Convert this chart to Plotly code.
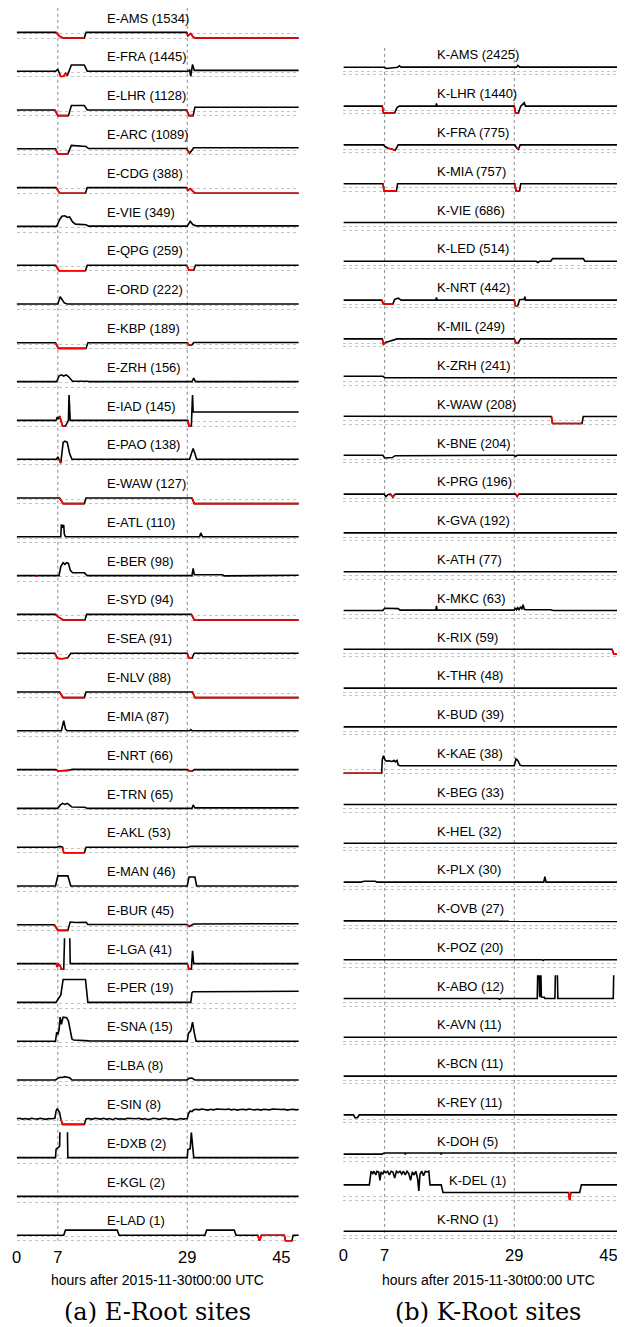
import plotly.graph_objects as go

W, H = 625, 1327
OFF = 8  # the page body adds an 8px margin, so the figure is drawn 8px smaller
WF, HF = W - OFF, H - OFF

E_SITES = ['E-AMS (1534)', 'E-FRA (1445)', 'E-LHR (1128)', 'E-ARC (1089)', 'E-CDG (388)',
           'E-VIE (349)', 'E-QPG (259)', 'E-ORD (222)', 'E-KBP (189)', 'E-ZRH (156)',
           'E-IAD (145)', 'E-PAO (138)', 'E-WAW (127)', 'E-ATL (110)', 'E-BER (98)',
           'E-SYD (94)', 'E-SEA (91)', 'E-NLV (88)', 'E-MIA (87)', 'E-NRT (66)',
           'E-TRN (65)', 'E-AKL (53)', 'E-MAN (46)', 'E-BUR (45)', 'E-LGA (41)',
           'E-PER (19)', 'E-SNA (15)', 'E-LBA (8)', 'E-SIN (8)', 'E-DXB (2)',
           'E-KGL (2)', 'E-LAD (1)']
K_SITES = ['K-AMS (2425)', 'K-LHR (1440)', 'K-FRA (775)', 'K-MIA (757)', 'K-VIE (686)',
           'K-LED (514)', 'K-NRT (442)', 'K-MIL (249)', 'K-ZRH (241)', 'K-WAW (208)',
           'K-BNE (204)', 'K-PRG (196)', 'K-GVA (192)', 'K-ATH (77)', 'K-MKC (63)',
           'K-RIX (59)', 'K-THR (48)', 'K-BUD (39)', 'K-KAE (38)', 'K-BEG (33)',
           'K-HEL (32)', 'K-PLX (30)', 'K-OVB (27)', 'K-POZ (20)', 'K-ABO (12)',
           'K-AVN (11)', 'K-BCN (11)', 'K-REY (11)', 'K-DOH (5)', 'K-DEL (1)',
           'K-RNO (1)']

TICKS = [0, 7, 29, 45]
EVENTS = [7, 29]

# hours after 2015-11-30 00:00 UTC / relative reachability (1 = normal, 0 = none)
# red spans = stretches drawn in red
FLAT_X = [0, 48]
FLAT_Y = [1, 1]

E_AMS_X = [0, 6.7, 7.3, 7.9, 11.5, 11.8, 28.9, 29.1, 29.6, 30.0, 30.3, 48]
E_AMS_Y = [1, 1, 0.3, 0, 0, 1, 1, 0.4, 0.8, 0.2, 0, 0]
E_AMS_RED = [(6.7, 11.5), (28.9, 48)]

E_FRA_X = [0, 6.6, 7.0, 7.3, 7.5, 8.0, 8.3, 8.6, 9.0, 9.3, 11.5, 12.0, 29.1, 29.4, 29.6, 29.9, 30.2, 30.6, 48]
E_FRA_Y = [1, 1, 1.3, 0.6, 0.05, 0.1, 0.6, 0.2, 1.5, 2.1, 2.1, 1, 1, 1.2, 0.1, 2.2, 1.15, 1.15, 1.15]
E_FRA_RED = [(7.3, 8.6)]

E_LHR_X = [0, 6.5, 7.0, 8.8, 9.3, 11.5, 12.0, 28.9, 29.3, 30.0, 30.3, 48]
E_LHR_Y = [1, 1, 0, 0, 1.8, 1.8, 1, 1, 0, 0, 1.5, 1.5]
E_LHR_RED = [(6.5, 8.8), (28.9, 30.0)]

E_ARC_X = [0, 6.6, 7.0, 8.7, 9.3, 11.8, 12.2, 28.9, 29.4, 30.1, 48]
E_ARC_Y = [1, 1, 0.1, 0.1, 1.6, 1.4, 1.05, 1.05, 0.2, 1.2, 1.2]
E_ARC_RED = [(6.6, 8.7), (28.9, 29.4)]

E_CDG_X = [0, 6.7, 7.3, 11.7, 12.0, 28.9, 29.1, 29.5, 30.3, 48]
E_CDG_Y = [1, 1, 0, 0, 1, 1, 0.5, 0.8, 0, 0]
E_CDG_RED = [(6.7, 11.7), (28.9, 48)]

E_VIE_X = [0, 6.8, 7.3, 7.7, 8.2, 8.6, 9.0, 9.5, 10.0, 11.8, 12.2, 29.0, 29.5, 30.0, 30.5, 48]
E_VIE_Y = [1, 1, 2.2, 2.8, 2.9, 2.6, 2.7, 1.8, 1.4, 1.3, 1.05, 1.05, 1.9, 1.3, 1.1, 1.1]
E_VIE_RED = []

E_QPG_X = [0, 6.6, 7.2, 11.7, 12.0, 28.9, 29.3, 30.1, 30.4, 48]
E_QPG_Y = [1, 1, 0, 0, 1, 1, 0.1, 0.1, 1, 1]
E_QPG_RED = [(6.6, 11.7), (28.9, 30.1)]

E_ORD_X = [0, 7.0, 7.4, 7.7, 8.1, 8.6, 48]
E_ORD_Y = [1, 1, 2.3, 1.8, 1.2, 1, 1]
E_ORD_RED = []

E_KBP_X = [0, 6.6, 7.1, 11.8, 12.1, 29.0, 29.3, 29.8, 30.1, 48]
E_KBP_Y = [1, 1, 0, 0, 1, 1, 0.6, 0.6, 1.05, 1.05]
E_KBP_RED = [(6.6, 11.8), (29.0, 29.8)]

E_ZRH_X = [0, 6.8, 7.2, 7.6, 8.0, 8.4, 8.8, 9.5, 12.0, 12.3, 29.8, 30.1, 30.4, 48]
E_ZRH_Y = [1, 1, 2.0, 2.2, 2.0, 2.2, 1.9, 1.05, 1.05, 1, 1, 1.6, 1, 1]
E_ZRH_RED = []

E_IAD_X = [0, 6.7, 6.9, 7.1, 7.3, 7.8, 8.3, 8.8, 8.9, 9.1, 29.1, 29.3, 29.7, 29.9, 30.0, 30.2, 48]
E_IAD_Y = [1, 1, 1.6, 1.2, 1.8, 0, 0, 1, 5.6, 1, 1, 0, 0, 5.6, 2.5, 2.5, 2.5]
E_IAD_RED = [(7.3, 8.3), (29.1, 29.7)]

E_PAO_X = [0, 6.8, 7.0, 7.2, 7.5, 7.9, 8.2, 8.6, 9.0, 9.4, 29.4, 29.8, 30.0, 30.3, 30.6, 48]
E_PAO_Y = [1, 1, 1.4, 1.0, 0.3, 4.0, 4.2, 4.0, 2.0, 1, 1, 2.3, 2.9, 2.0, 1, 1]
E_PAO_RED = [(7.2, 7.5)]

E_WAW_X = [0, 7.3, 7.9, 11.5, 11.8, 29.8, 30.2, 48]
E_WAW_Y = [1, 1, 0, 0, 1, 1, 0, 0]
E_WAW_RED = [(7.3, 11.5), (29.8, 48)]

E_ATL_X = [0, 7.5, 7.6, 7.8, 8.0, 8.1, 8.3, 31.1, 31.3, 31.6, 48]
E_ATL_Y = [1, 1, 3.2, 2.8, 3.1, 1.5, 1, 1, 1.7, 1, 1]
E_ATL_RED = []

E_BER_X = [0, 3.3, 3.4, 3.5, 7.2, 7.5, 7.9, 8.2, 8.5, 8.8, 9.1, 9.5, 11.5, 12.0, 29.8, 30.0, 30.2, 35.0, 35.3, 40.6, 41.0, 48]
E_BER_Y = [1, 1, 0.8, 1, 1, 2.6, 3.3, 3.0, 3.3, 3.2, 2.0, 1.5, 1.5, 1, 1, 2.3, 1.15, 1.15, 0.95, 0.95, 1.05, 1.05]
E_BER_RED = [(3.3, 3.5)]

E_SYD_X = [0, 6.6, 7.0, 7.5, 7.9, 11.6, 11.9, 29.7, 30.2, 48]
E_SYD_Y = [1, 1, 0.6, 0.3, 0, 0, 1, 1, 0, 0]
E_SYD_RED = [(6.6, 11.6), (29.7, 48)]

E_SEA_X = [0, 6.5, 6.9, 7.6, 8.2, 8.7, 9.2, 29.0, 29.3, 29.8, 30.2, 48]
E_SEA_Y = [1, 1, 0.1, 0, 0.05, 0.2, 1, 1, 0.1, 0.1, 1, 1]
E_SEA_RED = [(6.5, 8.7), (29.0, 29.8)]

E_NLV_X = [0, 7.3, 7.9, 11.5, 11.8, 29.9, 30.3, 48]
E_NLV_Y = [1, 1, 0, 0, 1, 1, 0, 0]
E_NLV_RED = [(7.3, 11.5), (29.9, 48)]

E_MIA_X = [0, 7.6, 8.0, 8.3, 8.6, 29.4, 29.6, 29.8, 48]
E_MIA_Y = [1, 1, 2.8, 1.3, 1, 1, 1.2, 1, 1]
E_MIA_RED = []

E_NRT_X = [0, 6.7, 7.0, 7.6, 8.1, 8.6, 9.0, 9.4, 29.1, 29.4, 29.9, 30.2, 48]
E_NRT_Y = [1, 1, 0.75, 0.8, 0.75, 0.8, 0.9, 1.05, 1, 0.7, 0.75, 1, 1]
E_NRT_RED = [(6.7, 9.0), (29.1, 29.9)]

E_TRN_X = [0, 7.0, 7.4, 7.8, 8.2, 8.6, 9.0, 9.4, 11.6, 12.0, 29.8, 30.0, 30.3, 48]
E_TRN_Y = [1, 1, 1.6, 1.9, 1.7, 1.9, 1.6, 1.25, 1.2, 1, 1, 1.6, 1.1, 1.1]
E_TRN_RED = []

E_AKL_X = [0, 6.8, 7.3, 7.8, 8.0, 11.5, 11.8, 29.0, 29.6, 48]
E_AKL_Y = [1, 1, 1.15, 1.0, 0, 0, 1, 1, 1.15, 1.15]
E_AKL_RED = [(7.8, 11.5)]

E_MAN_X = [0, 6.6, 7.0, 8.7, 9.2, 29.0, 29.3, 30.3, 30.6, 48]
E_MAN_Y = [1, 1, 2.8, 2.8, 1, 1, 2.6, 2.6, 1, 1]
E_MAN_RED = []

E_BUR_X = [0, 6.4, 7.0, 8.7, 9.1, 10.0, 11.8, 12.1, 29.0, 29.3, 30.1, 48]
E_BUR_Y = [1, 1, 0, 0, 1.5, 1.4, 1.45, 1.05, 1.05, 0.7, 1.15, 1.2]
E_BUR_RED = [(6.4, 8.7), (29.0, 29.3)]

E_LGA_X = [0, 6.7, 6.9, 7.1, 7.4, 7.6, 8.0, 8.2, 9.0, 9.1, 29.0, 29.3, 29.7, 29.9, 30.1, 48]
E_LGA_Y = [1, 1, 0.4, 0.9, 0.6, 0, 0, 8, 8, 1, 1, 0, 0, 3.3, 1, 1]
E_LGA_RED = [(6.7, 8.0), (29.0, 29.7)]

E_PER_X = [0, 6.7, 7.1, 7.5, 7.9, 11.7, 12.1, 29.6, 29.8, 30.0, 48]
E_PER_Y = [1, 1, 1.7, 2.3, 5.1, 5.1, 1, 1, 2.7, 2.9, 3.0]
E_PER_RED = []

E_SNA_X = [0, 6.6, 6.8, 7.0, 7.2, 7.4, 7.6, 7.9, 8.5, 8.8, 9.1, 9.4, 9.7, 10.5, 12.0, 12.3,
           29.0, 29.2, 29.6, 29.9, 30.2, 30.5, 48]
E_SNA_Y = [1, 1, 2.6, 2.2, 3.0, 5.3, 4.0, 5.3, 5.2, 4.6, 3.0, 1.4, 1.2, 1.15, 1.1, 1.05,
           1, 2.4, 2.9, 4.4, 2.5, 1, 1]
E_SNA_RED = []

E_LBA_X = [0, 6.6, 7.0, 7.4, 7.8, 8.2, 8.6, 9.0, 9.4, 29.0, 29.3, 29.8, 30.3, 48]
E_LBA_Y = [1, 1, 1.3, 1.5, 1.45, 1.6, 1.5, 1.4, 1, 1, 1.3, 1.35, 1, 1]
E_LBA_RED = []

E_SIN_X = [0, 0.5, 1.0, 1.5, 2.0, 2.5, 3.0, 3.5, 4.0, 4.5, 5.0, 5.5, 6.0, 6.5,
           6.7, 6.9, 7.1, 7.3, 7.5, 7.8, 11.5, 11.8,
           12.3, 12.8, 13.3, 13.8, 14.3, 14.8, 15.3, 15.8, 16.3, 16.8, 17.3, 17.8, 18.3, 18.8,
           19.3, 19.8, 20.3, 20.8, 21.3, 21.8, 22.3, 22.8, 23.3, 23.8, 24.3, 24.8, 25.3, 25.8,
           26.3, 26.8, 27.3, 27.8, 28.3, 28.8,
           29.0, 29.2, 29.5, 29.8, 30.1,
           30.5, 31.0, 31.5, 32.0, 32.5, 33.0, 33.5, 34.0, 34.5, 35.0, 35.5, 36.0, 36.5, 37.0,
           37.5, 38.0, 38.5, 39.0, 39.5, 40.0, 40.5, 41.0, 41.5, 42.0, 42.5, 43.0, 43.5, 44.0,
           44.5, 45.0, 45.5, 46.0, 46.5, 47.0, 47.5, 48]
E_SIN_Y = [1.0, 1.1, 0.95, 1.05, 0.9, 1.1, 1.0, 0.95, 1.1, 1.0, 0.9, 1.05, 1.0, 1.1,
           2.4, 2.8, 2.3, 2.1, 1.0, 0.0, 0.0, 1.0,
           1.05, 0.9, 1.1, 1.0, 0.95, 1.1, 0.9, 1.05, 0.85, 1.1, 0.95, 1.0, 0.9, 1.1,
           1.05, 0.95, 1.0, 1.1, 0.9, 1.05, 0.85, 0.95, 1.1, 1.0, 0.9, 1.05, 1.1, 0.95,
           1.0, 0.9, 0.85, 1.05, 0.95, 1.0,
           1.0, 1.9, 2.4, 2.3, 2.6,
           2.7, 2.6, 2.75, 2.65, 2.55, 2.7, 2.6, 2.75, 2.7, 2.6, 2.65, 2.75, 2.6, 2.7,
           2.55, 2.65, 2.7, 2.6, 2.75, 2.65, 2.6, 2.7, 2.55, 2.7, 2.65, 2.6, 2.75, 2.7,
           2.6, 2.65, 2.7, 2.55, 2.65, 2.7, 2.6, 2.65]
E_SIN_RED = [(7.5, 11.5), (16.3, 16.3), (22.3, 22.3), (27.3, 27.3)]

E_DXB_X = [0, 6.6, 6.7, 7.0, 7.3, 7.4, 8.6, 8.7, 29.0, 29.1, 29.5, 29.7, 30.1, 48]
E_DXB_Y = [1, 1, 2.5, 2.7, 3.0, 8, 8, 1, 1, 2.4, 2.6, 5.5, 1, 1]
E_DXB_RED = []

E_KGL_X = FLAT_X
E_KGL_Y = FLAT_Y
E_KGL_RED = []

E_LAD_X = [0, 8.0, 8.3, 17.1, 17.4, 32.0, 32.3, 37.0, 37.3, 41.0, 41.3, 41.6, 45.5, 45.7, 46.8, 47.0, 48]
E_LAD_Y = [1, 1, 1.9, 1.9, 1, 1, 1.9, 1.9, 1, 1, 0, 1, 1, 0, 0, 1, 1]
E_LAD_RED = [(41.0, 41.6), (45.5, 46.8)]

K_AMS_X = [0, 6.9, 7.3, 8.5, 9.2, 9.5, 9.8, 29.4, 29.6, 29.9, 48]
K_AMS_Y = [1, 1, 0.85, 0.9, 1.0, 1.2, 1.02, 1.02, 1.25, 1.02, 1.02]
K_AMS_RED = []

K_LHR_X = [0, 6.6, 6.8, 8.7, 9.1, 9.5, 15.7, 15.8, 15.9, 29.0, 29.2, 29.7, 30.1, 30.7, 30.9, 48]
K_LHR_Y = [1, 1, 0.1, 0.1, 0.8, 1, 1, 1.35, 1, 1, 0.1, 0.1, 1, 1.45, 1, 1]
K_LHR_RED = [(6.6, 8.7), (29.0, 29.7)]

K_FRA_X = [0, 6.8, 7.1, 7.6, 8.2, 8.8, 9.3, 29.1, 29.4, 29.7, 30.0, 48]
K_FRA_Y = [1, 1, 0.75, 0.55, 0.45, 0.3, 1, 1, 0.6, 0.4, 1, 1]
K_FRA_RED = [(7.6, 8.8), (29.4, 29.7)]

K_MIA_X = [0, 6.7, 6.9, 9.0, 9.2, 29.1, 29.3, 29.9, 30.1, 48]
K_MIA_Y = [1, 1, 0.05, 0.05, 1, 1, 0.05, 0.05, 1, 1]
K_MIA_RED = [(6.7, 9.0), (29.1, 29.9)]

K_VIE_X = FLAT_X
K_VIE_Y = FLAT_Y
K_VIE_RED = []

K_LED_X = [0, 6.9, 7.2, 7.5, 32.7, 33.0, 33.3, 35.2, 35.5, 40.7, 41.0, 48]
K_LED_Y = [1, 1, 0.95, 1, 1, 0.85, 1, 1, 1.35, 1.35, 1, 1]
K_LED_RED = []

K_NRT_X = [0, 6.5, 6.8, 8.4, 8.7, 9.3, 9.8, 15.7, 15.8, 15.9, 29.0, 29.2, 29.6, 29.9, 30.7, 30.8, 30.9, 48]
K_NRT_Y = [1, 1, 0.5, 0.5, 1.1, 1.25, 1, 1, 1.35, 1, 1, 0.25, 0.25, 1.05, 1.1, 1.45, 1, 1]
K_NRT_RED = [(6.5, 8.4), (29.0, 29.6)]

K_MIL_X = [0, 6.6, 6.8, 7.2, 7.7, 8.5, 9.1, 29.0, 29.3, 29.6, 30.1, 48]
K_MIL_Y = [1, 1, 0.3, 0.55, 0.65, 0.8, 1, 1, 0.45, 0.4, 1, 1]
K_MIL_RED = [(6.6, 7.2), (29.0, 29.6)]

K_ZRH_X = [0, 6.7, 7.0, 48]
K_ZRH_Y = [1.2, 1.2, 1, 1]
K_ZRH_RED = []

K_WAW_X = [0, 10, 20, 35.3, 35.5, 40.5, 40.7, 48]
K_WAW_Y = [1.03, 1.0, 1.0, 1.0, 0.08, 0.08, 1, 1]
K_WAW_RED = [(35.3, 40.5)]

K_BNE_X = [0, 6.7, 7.0, 8.3, 8.8, 29.0, 29.2, 29.5, 48]
K_BNE_Y = [1, 1, 0.65, 0.7, 0.95, 1, 0.85, 1, 1]
K_BNE_RED = []

K_PRG_X = [0, 6.9, 7.2, 7.6, 8.0, 8.4, 8.7, 9.0, 29.2, 29.5, 29.8, 48]
K_PRG_Y = [1, 1, 0.65, 0.95, 1.0, 0.6, 0.95, 1, 1, 0.7, 1, 1]
K_PRG_RED = [(8.0, 8.7), (29.2, 29.8)]

K_GVA_X = FLAT_X
K_GVA_Y = FLAT_Y
K_GVA_RED = []

K_ATH_X = FLAT_X
K_ATH_Y = FLAT_Y
K_ATH_RED = []

K_MKC_X = [0, 6.7, 7.0, 8.5, 9.3, 9.6, 15.7, 15.8, 15.9, 29.0, 29.2, 29.4, 29.6, 29.8,
           30.1, 30.3, 30.5, 30.7, 31.0, 35.2, 35.6, 48]
K_MKC_Y = [1, 1, 1.3, 1.3, 1.25, 1.05, 1.05, 1.6, 1.05, 1.05, 1.35, 1.1, 1.35, 1.1,
           1.5, 1.15, 1.75, 1.15, 1.1, 1.1, 1.0, 1.0]
K_MKC_RED = []

K_RIX_X = [0, 7, 7.3, 45.6, 45.9, 47.1, 47.4, 48]
K_RIX_Y = [1, 1, 1.05, 1, 0.35, 0.35, 1, 1]
K_RIX_RED = [(45.6, 47.1)]

K_THR_X = FLAT_X
K_THR_Y = FLAT_Y
K_THR_RED = []

K_BUD_X = FLAT_X
K_BUD_Y = FLAT_Y
K_BUD_RED = []

K_KAE_X = [0, 6.5, 6.6, 6.8, 7.1, 7.4, 7.8, 8.1, 8.4, 8.6, 8.8, 9.1, 9.3, 9.6,
           29.0, 29.3, 29.6, 30.0, 30.3, 48]
K_KAE_Y = [0, 0, 1.8, 2.3, 1.7, 1.6, 1.65, 1.55, 1.6, 1.7, 1.5, 1.7, 1.1, 1.0,
           1.0, 1.9, 1.7, 1.05, 1.0, 1.0]
K_KAE_RED = [(0, 6.5)]

K_BEG_X = FLAT_X
K_BEG_Y = FLAT_Y
K_BEG_RED = []

K_HEL_X = FLAT_X
K_HEL_Y = FLAT_Y
K_HEL_RED = []

K_PLX_X = [0, 3.0, 3.5, 5.4, 5.7, 34.0, 34.2, 34.4, 48]
K_PLX_Y = [1, 1, 1.12, 1.12, 1, 1, 1.7, 1, 1]
K_PLX_RED = []

K_OVB_X = [0, 25, 31.0, 31.5, 48]
K_OVB_Y = [1, 1, 1, 0.93, 0.93]
K_OVB_RED = []

K_POZ_X = [0, 33.7, 33.9, 34.1, 48]
K_POZ_Y = [1, 1, 0.9, 1, 1]
K_POZ_RED = []

K_ABO_X = [0, 26.3, 26.5, 26.7, 32.9, 33.0, 33.2, 33.3, 33.5, 33.6, 34.1, 34.2,
           35.9, 36.0, 36.3, 36.4, 45.8, 45.9, 47.2, 47.3, 48]
K_ABO_Y = [1, 1, 0.9, 1, 1, 5, 5, 1.2, 5, 1.2, 1.15, 1,
           1, 5, 5, 1, 1, 5, 5, 1, 1]
K_ABO_RED = []

K_AVN_X = FLAT_X
K_AVN_Y = FLAT_Y
K_AVN_RED = []

K_BCN_X = FLAT_X
K_BCN_Y = FLAT_Y
K_BCN_RED = []

K_REY_X = [0, 1.7, 2.0, 2.4, 2.7, 48]
K_REY_Y = [1, 1, 0.6, 0.65, 1, 1]
K_REY_RED = []

K_DOH_X = [0, 6.6, 6.9, 10.4, 10.5, 10.6, 16.5, 16.6, 16.7, 48]
K_DOH_Y = [0.95, 0.95, 1.1, 1.1, 0.9, 1.1, 1.1, 0.9, 1.1, 1.1]
K_DOH_RED = []

K_DEL_X = [0, 4.4, 4.7, 5.0, 5.2, 5.5, 5.7, 6.0, 6.2, 6.4, 6.7, 6.9, 7.2, 7.5, 7.8, 8.1,
           8.4, 8.7, 9.0, 9.3, 9.6, 9.9, 10.2, 10.5, 10.8, 11.1, 11.4, 11.7, 12.0, 12.3,
           12.6, 12.8, 13.0, 13.3, 13.6, 13.9, 14.2, 14.5, 14.7, 16.6, 16.9, 38.2, 38.4,
           38.6, 40.1, 40.4, 48]
K_DEL_Y = [2.0, 2.0, 3.8, 3.5, 3.8, 3.3, 3.8, 3.7, 2.6, 3.7, 3.4, 3.8, 3.6, 3.8, 3.3, 3.8,
           3.7, 2.9, 3.8, 3.6, 3.8, 3.4, 3.8, 3.3, 3.8, 3.5, 2.6, 3.7, 3.3, 3.8,
           2.8, 1.2, 3.4, 3.8, 3.2, 3.8, 3.7, 3.8, 2.0, 2.0, 1.0, 1.0, 0.0,
           1.0, 1.0, 2.0, 2.0]
K_DEL_RED = [(38.2, 38.6)]

K_RNO_X = FLAT_X
K_RNO_Y = FLAT_Y
K_RNO_RED = []

E_SERIES = [
    (E_AMS_X, E_AMS_Y, E_AMS_RED), (E_FRA_X, E_FRA_Y, E_FRA_RED), (E_LHR_X, E_LHR_Y, E_LHR_RED),
    (E_ARC_X, E_ARC_Y, E_ARC_RED), (E_CDG_X, E_CDG_Y, E_CDG_RED), (E_VIE_X, E_VIE_Y, E_VIE_RED),
    (E_QPG_X, E_QPG_Y, E_QPG_RED), (E_ORD_X, E_ORD_Y, E_ORD_RED), (E_KBP_X, E_KBP_Y, E_KBP_RED),
    (E_ZRH_X, E_ZRH_Y, E_ZRH_RED), (E_IAD_X, E_IAD_Y, E_IAD_RED), (E_PAO_X, E_PAO_Y, E_PAO_RED),
    (E_WAW_X, E_WAW_Y, E_WAW_RED), (E_ATL_X, E_ATL_Y, E_ATL_RED), (E_BER_X, E_BER_Y, E_BER_RED),
    (E_SYD_X, E_SYD_Y, E_SYD_RED), (E_SEA_X, E_SEA_Y, E_SEA_RED), (E_NLV_X, E_NLV_Y, E_NLV_RED),
    (E_MIA_X, E_MIA_Y, E_MIA_RED), (E_NRT_X, E_NRT_Y, E_NRT_RED), (E_TRN_X, E_TRN_Y, E_TRN_RED),
    (E_AKL_X, E_AKL_Y, E_AKL_RED), (E_MAN_X, E_MAN_Y, E_MAN_RED), (E_BUR_X, E_BUR_Y, E_BUR_RED),
    (E_LGA_X, E_LGA_Y, E_LGA_RED), (E_PER_X, E_PER_Y, E_PER_RED), (E_SNA_X, E_SNA_Y, E_SNA_RED),
    (E_LBA_X, E_LBA_Y, E_LBA_RED), (E_SIN_X, E_SIN_Y, E_SIN_RED), (E_DXB_X, E_DXB_Y, E_DXB_RED),
    (E_KGL_X, E_KGL_Y, E_KGL_RED), (E_LAD_X, E_LAD_Y, E_LAD_RED),
]
K_SERIES = [
    (K_AMS_X, K_AMS_Y, K_AMS_RED), (K_LHR_X, K_LHR_Y, K_LHR_RED), (K_FRA_X, K_FRA_Y, K_FRA_RED),
    (K_MIA_X, K_MIA_Y, K_MIA_RED), (K_VIE_X, K_VIE_Y, K_VIE_RED), (K_LED_X, K_LED_Y, K_LED_RED),
    (K_NRT_X, K_NRT_Y, K_NRT_RED), (K_MIL_X, K_MIL_Y, K_MIL_RED), (K_ZRH_X, K_ZRH_Y, K_ZRH_RED),
    (K_WAW_X, K_WAW_Y, K_WAW_RED), (K_BNE_X, K_BNE_Y, K_BNE_RED), (K_PRG_X, K_PRG_Y, K_PRG_RED),
    (K_GVA_X, K_GVA_Y, K_GVA_RED), (K_ATH_X, K_ATH_Y, K_ATH_RED), (K_MKC_X, K_MKC_Y, K_MKC_RED),
    (K_RIX_X, K_RIX_Y, K_RIX_RED), (K_THR_X, K_THR_Y, K_THR_RED), (K_BUD_X, K_BUD_Y, K_BUD_RED),
    (K_KAE_X, K_KAE_Y, K_KAE_RED), (K_BEG_X, K_BEG_Y, K_BEG_RED), (K_HEL_X, K_HEL_Y, K_HEL_RED),
    (K_PLX_X, K_PLX_Y, K_PLX_RED), (K_OVB_X, K_OVB_Y, K_OVB_RED), (K_POZ_X, K_POZ_Y, K_POZ_RED),
    (K_ABO_X, K_ABO_Y, K_ABO_RED), (K_AVN_X, K_AVN_Y, K_AVN_RED), (K_BCN_X, K_BCN_Y, K_BCN_RED),
    (K_REY_X, K_REY_Y, K_REY_RED), (K_DOH_X, K_DOH_Y, K_DOH_RED), (K_DEL_X, K_DEL_Y, K_DEL_RED),
    (K_RNO_X, K_RNO_Y, K_RNO_RED),
]
LABEL_X_OVERRIDE = {'K-DEL (1)': 17.5}

PITCH = 38.8
FONT = 'Liberation Sans, Arial, sans-serif'
GRID = '#c4c4c4'


def px_x(px):
    return (px - OFF) / WF


def px_y(py):
    return 1 - (py - OFF) / HF


def red_part(xs, ys, spans):
    return [y if any(a <= x <= b for a, b in spans) else None for x, y in zip(xs, ys)]


fig = go.Figure()
annotations = []
shapes = []


def add_column(sites, series, xref, offset, top0, height, unit, grid_mid, label_x):
    top_val = height / unit
    for i, (name, (xs, ys, red)) in enumerate(zip(sites, series)):
        n = offset + i + 1
        yref = 'y' if n == 1 else 'y%d' % n
        top_px = top0 + PITCH * i
        floor_px = top_px + height
        dom_top = max(top_px - 1, OFF)
        fig.add_trace(go.Scatter(x=xs, y=ys, xaxis=xref, yaxis=yref, mode='lines',
                                 line=dict(color='black', width=1.6), hoverinfo='skip'))
        if red:
            fig.add_trace(go.Scatter(x=xs, y=red_part(xs, ys, red), xaxis=xref, yaxis=yref,
                                     mode='lines', connectgaps=False,
                                     line=dict(color='#ff0000', width=1.6), hoverinfo='skip'))
        fig.update_layout(**{'yaxis' if n == 1 else 'yaxis%d' % n: dict(
            domain=[px_y(floor_px + 1.5), min(1, px_y(dom_top))],
            range=[-1.5 / unit, top_val + (top_px - dom_top) / unit], anchor=xref,
            tickvals=[0, grid_mid, top_val], showticklabels=False,
            showgrid=True, gridcolor=GRID, griddash='dot', gridwidth=1,
            zeroline=False, showline=False, fixedrange=True)})
        annotations.append(dict(x=LABEL_X_OVERRIDE.get(name, label_x), y=top_val - 10 / unit,
                                xref=xref, yref=yref, text=name, showarrow=False,
                                xanchor='left', yanchor='middle',
                                font=dict(size=13, color='black', family=FONT)))
    return offset + len(sites), top0 + PITCH * (len(sites) - 1) + height


n_left, left_bottom = add_column(E_SITES, E_SERIES, 'x', 0, 8, 30.0, 5.6, 0.78, 15.0)
n_right, right_bottom = add_column(K_SITES, K_SERIES, 'x2', n_left, 45, 29.9, 7.6, 0.45, 15.5)

axis_common = dict(tickvals=TICKS, ticktext=[str(t) for t in TICKS], showgrid=False,
                   zeroline=False, showline=False, ticks='', ticklabelstandoff=3,
                   fixedrange=True, tickfont=dict(size=16.5, color='black', family=FONT))
fig.update_layout(
    xaxis=dict(domain=[px_x(11.7), px_x(296)], range=[0, (296 - 11.7) / 5.93],
               anchor='y%d' % n_left, **axis_common),
    xaxis2=dict(domain=[px_x(341.1), 1], range=[0, (W - 341.1) / 5.94],
                anchor='y%d' % n_right, **axis_common),
)

for xref, top_px, bottom_px in [('x', 8, left_bottom), ('x2', 45, right_bottom)]:
    for h in EVENTS:
        shapes.append(dict(type='line', xref=xref, yref='paper', x0=h, x1=h,
                           y0=px_y(bottom_px), y1=px_y(top_px), layer='below',
                           line=dict(color='#8a8a8a', width=1, dash='3px,3px')))

for cx, sub in [(154, '(a) E-Root sites'), (487, '(b) K-Root sites')]:
    annotations.append(dict(x=px_x(cx), y=px_y(1280), xref='paper', yref='paper',
                            xanchor='center', yanchor='middle',
                            text='hours after 2015-11-30t00:00 UTC', showarrow=False,
                            font=dict(size=14, color='black', family=FONT)))
    annotations.append(dict(x=px_x(cx), y=px_y(1312), xref='paper', yref='paper',
                            xanchor='center', yanchor='middle',
                            text=sub, showarrow=False,
                            font=dict(size=24, color='black', family='DejaVu Serif, serif')))

fig.update_layout(width=WF, height=HF, margin=dict(l=0, r=0, t=0, b=0),
                  paper_bgcolor='white', plot_bgcolor='rgba(0,0,0,0)',
                  showlegend=False, annotations=annotations, shapes=shapes,
                  font=dict(family=FONT, color='black'))

fig.write_html('out.html')
